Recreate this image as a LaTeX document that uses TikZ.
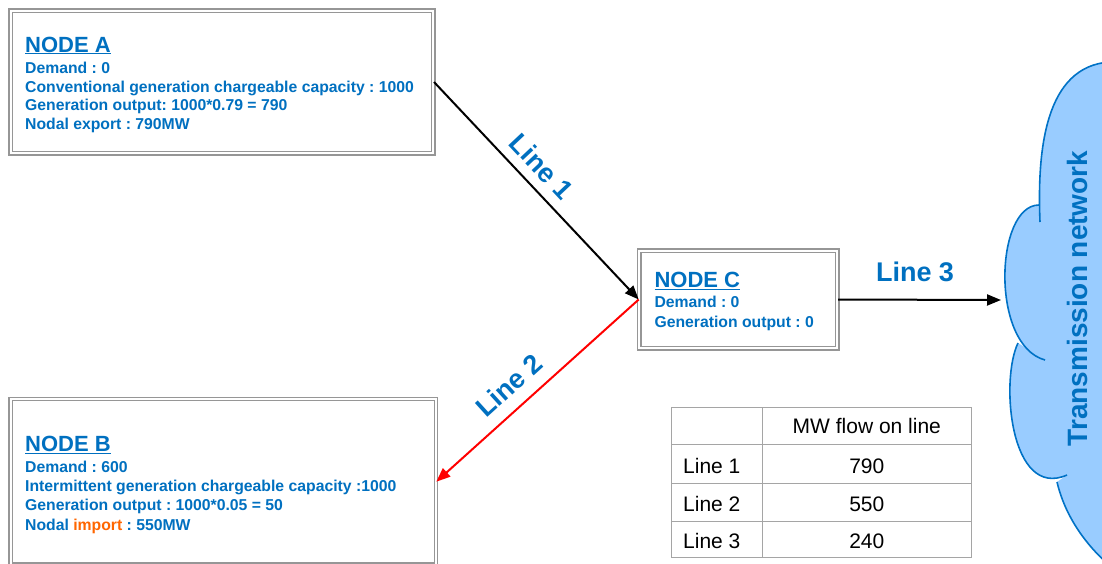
\documentclass[tikz,border=0pt]{standalone}
\usepackage{fontspec}
\setmainfont{Liberation Sans}
\usetikzlibrary{arrows.meta}
\definecolor{tblue}{RGB}{0,112,192}
\definecolor{torange}{RGB}{255,102,0}
\definecolor{cfill}{RGB}{153,204,255}
\definecolor{cline}{RGB}{0,114,198}
\definecolor{bgray}{RGB}{150,150,150}
\definecolor{tgray}{RGB}{165,165,165}
\frenchspacing
\begin{document}
\begin{tikzpicture}[x=1pt,y=-1pt,
  nodebox/.style={draw=bgray, double=white, double distance=2pt, line width=1.2pt, inner sep=0pt},
  ttl/.style={anchor=base west, inner sep=0pt, text=tblue, font=\fontsize{22}{26}\selectfont\bfseries},
  body/.style={anchor=base west, inner sep=0pt, text=tblue},
  lbl/.style={inner sep=0pt, text=tblue, font=\fontsize{27}{32}\selectfont\bfseries},
  flow/.style={line width=2pt, -{Triangle[length=14pt,width=11pt]}},
  cell/.style={inner sep=0pt, anchor=base, font=\fontsize{21}{25}\selectfont},
  cellw/.style={inner sep=0pt, anchor=base west, font=\fontsize{21}{25}\selectfont},
  grid/.style={draw=tgray, line width=1pt}]
\useasboundingbox (0,0) rectangle (1102,563);
\fill[white] (0,0) rectangle (1102,563);
\begin{scope}
\clip (0,0) rectangle (1102,563);
% cloud
\fill[cfill] (1110,62) .. controls (1045,66) and (1037,150) .. (1040,222)
  -- (1040,205) .. controls (995,205) and (990,345) .. (1045,360)
  -- (1018,343) .. controls (1000,380) and (1010,500) .. (1067,475)
  -- (1057,482) .. controls (1066,520) and (1090,550) .. (1115,570)
  -- (1115,62) -- cycle;
\draw[cline, line width=1.6pt] (1110,62) .. controls (1045,66) and (1037,150) .. (1040,222);
\draw[cline, line width=1.6pt] (1039,205) .. controls (995,205) and (990,345) .. (1045,360);
\draw[cline, line width=1.6pt] (1018,343) .. controls (1000,380) and (1010,500) .. (1067,475);
\draw[cline, line width=1.6pt] (1057,482) .. controls (1066,520) and (1090,550) .. (1115,570);
\node[text=tblue, rotate=90, inner sep=0pt, font=\fontsize{28}{32}\selectfont\bfseries] (tn) at (1077.5,298.5) {Transmission network};
\coordinate (cloudin) at (1001,300);
% boxes
\node[nodebox, minimum width=422.8pt, minimum height=142.8pt] (A) at (222,82) {};
\node[nodebox, minimum width=425.1pt, minimum height=165.6pt] (B) at (223.15,481.7) {};
\node[nodebox, minimum width=198.1pt, minimum height=97.8pt] (C) at (738.35,299.5) {};
\end{scope}
% texts
\node[ttl] (Atitle) at (25,52) {\underline{NODE A}};
\node[body, font=\fontsize{15.75}{18.8}\selectfont\bfseries] (Abody) at (25,73.3) {\vtop{%
  \hbox{Demand : 0}
  \hbox{Conventional generation chargeable capacity : 1000}
  \hbox{Generation output: 1000*0.79 = 790}
  \hbox{Nodal export : 790MW}}};
\node[ttl] (Btitle) at (25,451.7) {\underline{NODE B}};
\node[body, font=\fontsize{15.75}{19.1}\selectfont\bfseries] (Bbody) at (25,472.7) {\vtop{%
  \hbox{Demand : 600}
  \hbox{Intermittent generation chargeable capacity :1000}
  \hbox{Generation output : 1000*0.05 = 50}
  \hbox{Nodal \textcolor{torange}{import} : 550MW}}};
\node[ttl] (Ctitle) at (654.3,287.7) {\underline{NODE C}};
\node[body, font=\fontsize{15.75}{19.6}\selectfont\bfseries] (Cbody) at (654.3,307.7) {\vtop{%
  \hbox{Demand : 0}
  \hbox{Generation output : 0}}};
% connectors
\draw[flow, black] (A.east) -- (C.west);
\draw[flow, red] (C.west) -- (B.east);
\draw[flow, black] (C.east) -- (cloudin);
\node[lbl, rotate=-46.8] (l1) at (541.7,166.7) {Line 1};
\node[lbl, rotate=42.2] (l2) at (509,385) {Line 2};
\node[lbl, anchor=base] (l3) at (915,281.7) {Line 3};
% table
\draw[grid] (671,407.3) rectangle (971,557.3);
\draw[grid] (762.7,407.3) -- (762.7,557.3);
\draw[grid] (671,444.3) -- (971,444.3);
\draw[grid] (671,483.3) -- (971,483.3);
\draw[grid] (671,521.7) -- (971,521.7);
\node[cell] (th) at (866.8,433.3) {MW flow on line};
\node[cellw] (r1) at (683,473.3) {Line 1};
\node[cellw] (r2) at (683,511.7) {Line 2};
\node[cellw] (r3) at (683,548.3) {Line 3};
\node[cell] (v1) at (866.8,473.3) {790};
\node[cell] (v2) at (866.8,511.7) {550};
\node[cell] (v3) at (866.8,548.3) {240};
\end{tikzpicture}
\end{document}
